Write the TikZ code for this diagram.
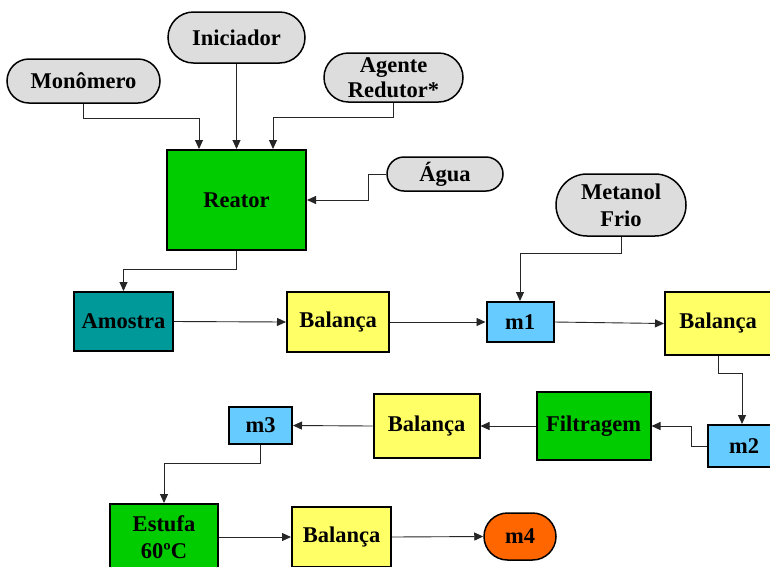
\documentclass[tikz,border=0pt]{standalone}
\usepackage{fontspec}
\setmainfont{Liberation Serif}
\usetikzlibrary{shapes.misc,arrows.meta}
\definecolor{grayfill}{HTML}{DDDDDD}
\definecolor{greenbox}{HTML}{00CC00}
\definecolor{tealbox}{HTML}{009999}
\definecolor{yellowbox}{HTML}{FFFF66}
\definecolor{bluebox}{HTML}{66CCFF}
\definecolor{orangebox}{HTML}{FF6600}
\begin{document}
\begin{tikzpicture}[x=1pt,y=-1pt,
 every node/.style={font=\fontsize{22.5}{27}\selectfont\bfseries, align=center, inner sep=0pt},
 pill/.style={rounded rectangle, draw=black, line width=1.5pt, fill=grayfill},
 box/.style={rectangle, draw=black, line width=2pt},
 conn/.style={draw=black!85, line width=0.9pt, -{Triangle[length=9pt,width=8pt]}}]
\clip (0,0) rectangle (770,566);
\fill[white] (0,0) rectangle (770,566);

\node[pill, minimum width=153, minimum height=44] (mono) at (83.5,81) {Monômero};
\node[pill, minimum width=137, minimum height=51] (ini) at (236.5,37.5) {Iniciador};
\node[pill, minimum width=139, minimum height=49] (agente) at (393.5,77.5) {Agente\\[-2pt]Redutor*};
\node[box, fill=greenbox, minimum width=139, minimum height=100] (reator) at (236.5,200) {Reator};
\node[pill, minimum width=116, minimum height=34] (agua) at (445,174) {Água};
\node[pill, minimum width=130, minimum height=62] (metanol) at (621,205) {Metanol\\Frio};
\node[box, fill=tealbox, minimum width=99, minimum height=59] (amostra) at (123.5,321.5) {Amostra};
\node[box, fill=yellowbox, minimum width=102, minimum height=60] (bal1) at (338,322) {Balança};
\node[box, fill=bluebox, minimum width=67, minimum height=40] (m1) at (520,322) {m1};
\node[box, fill=yellowbox, minimum width=106, minimum height=63] (bal2) at (718,323.5) {Balança};
\node[box, fill=bluebox, minimum width=72, minimum height=42] (m2) at (744,446) {m2};
\node[box, fill=greenbox, minimum width=114, minimum height=68] (filt) at (593.5,426) {Filtragem};
\node[box, fill=yellowbox, minimum width=106, minimum height=64] (bal3) at (426.5,426) {Balança};
\node[box, fill=bluebox, minimum width=63, minimum height=37] (m3) at (260.5,425.5) {m3};
\node[box, fill=greenbox, minimum width=108, minimum height=66] (estufa) at (164,537) {Estufa\\60ºC};
\node[box, fill=yellowbox, minimum width=99, minimum height=60] (bal4) at (341.5,537) {Balança};
\node[pill, fill=orangebox, minimum width=72, minimum height=47] (m4) at (520,536.5) {m4};

\draw[conn] (mono.south) -- ++(0,15) -| ([xshift=-37.5pt]reator.north);
\draw[conn] (ini.south) -- (reator.north);
\draw[conn] (agente.south) -- ++(0,15) -| ([xshift=36.5pt]reator.north);
\draw[conn] (agua.west) -- ++(-18,0) |- (reator.east);
\draw[conn] (reator.south) -- ++(0,18) -| (amostra.north);
\draw[conn] (amostra.east) -- (bal1.west);
\draw[conn] (bal1.east) -- (m1.west);
\draw[conn] (metanol.south) -- ++(0,17) -| (m1.north);
\draw[conn] (m1.east) -- (bal2.west);
\draw[conn] (bal2.south) -- ++(0,17) -| ([xshift=-2pt]m2.north);
\draw[conn] (m2.west) -- ++(-16,0) |- (filt.east);
\draw[conn] (filt.west) -- (bal3.east);
\draw[conn] (bal3.west) -- (m3.east);
\draw[conn] (m3.south) -- ++(0,18) -| (estufa.north);
\draw[conn] (estufa.east) -- (bal4.west);
\draw[conn] (bal4.east) -- (m4.west);
\end{tikzpicture}
\end{document}
